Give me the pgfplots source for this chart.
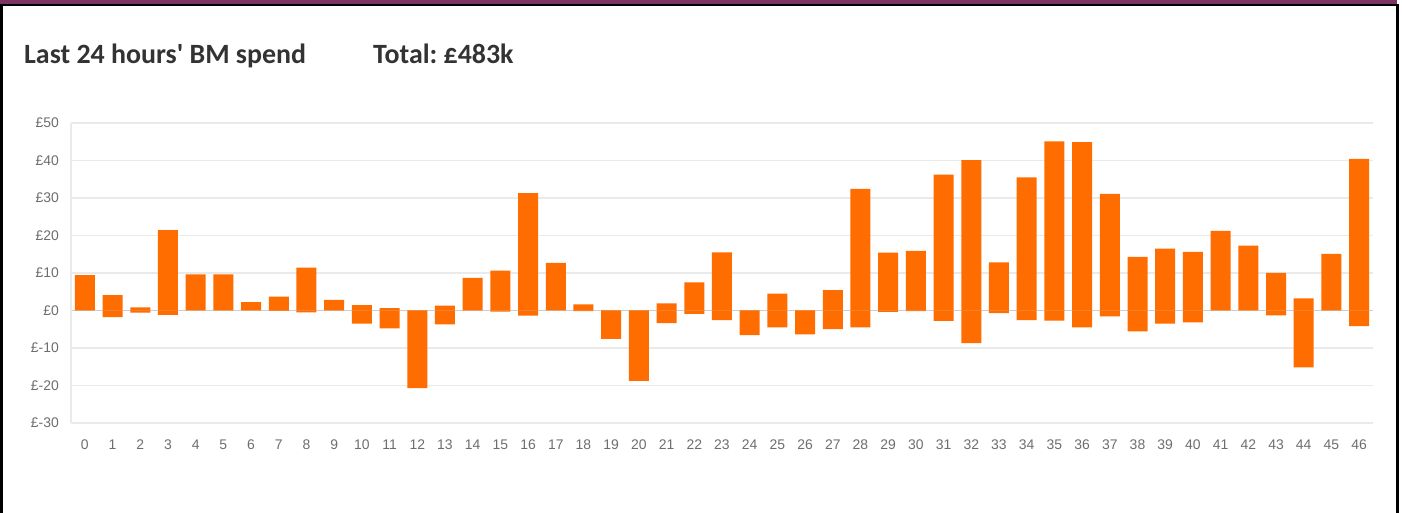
\documentclass[border=0pt]{standalone}
\usepackage{fontspec}
\setmainfont{Carlito}
\newfontfamily\tickfont{Liberation Sans}
\usepackage{pgfplots}
\usepackage{pgfplotstable}
\pgfplotsset{compat=1.18}
\definecolor{barorange}{RGB}{255,109,0}
\definecolor{topbar}{RGB}{123,53,96}
\definecolor{gridgrey}{RGB}{234,234,234}
\definecolor{zerogrey}{RGB}{205,205,205}
\definecolor{ticktext}{RGB}{110,110,110}
\definecolor{titlegrey}{RGB}{51,51,51}

\pgfplotstableread{
x pos neg
0 9.4 0
1 4.1 -1.8
2 0.8 -0.6
3 21.4 -1.2
4 9.6 0
5 9.6 0
6 2.2 0
7 3.7 -0.1
8 11.4 -0.5
9 2.8 0
10 1.4 -3.5
11 0.6 -4.8
12 0 -20.7
13 1.3 -3.7
14 8.7 0
15 10.6 -0.3
16 31.3 -1.4
17 12.7 0
18 1.6 -0.2
19 0 -7.6
20 0 -18.8
21 1.9 -3.4
22 7.5 -0.9
23 15.5 -2.6
24 0 -6.6
25 4.5 -4.5
26 0 -6.4
27 5.4 -5.0
28 32.4 -4.5
29 15.4 -0.4
30 15.9 -0.2
31 36.2 -2.8
32 40.1 -8.7
33 12.8 -0.7
34 35.5 -2.6
35 45.1 -2.7
36 44.9 -4.5
37 31.1 -1.6
38 14.3 -5.6
39 16.5 -3.5
40 15.6 -3.2
41 21.2 0
42 17.3 0
43 10.0 -1.3
44 3.2 -15.2
45 15.1 0
46 40.4 -4.2
}\bmdata

\begin{document}
\frenchspacing
\begin{tikzpicture}[x=1bp,y=1bp]
\fill[white] (0,0) rectangle (1402,513);
\useasboundingbox (0,0) rectangle (1402,513);
\fill[topbar] (0,509) rectangle (1397,513);
\fill[black] (0,506.5) rectangle (1399,509);
\fill[black] (0,0) rectangle (3,509);
\fill[black] (1396,0) rectangle (1399,509);
\node[anchor=base west, font=\bfseries\fontsize{28}{32}\selectfont, text=titlegrey, inner sep=0pt] at (24,449) {Last 24 hours\textquotesingle{} BM spend};
\node[anchor=base west, font=\bfseries\fontsize{28}{32}\selectfont, text=titlegrey, inner sep=0pt] at (373,449) {Total: £483k};
\begin{axis}[
  at={(71bp,90bp)}, anchor=south west,
  scale only axis, width=1302bp, height=300bp,
  xmin=-0.5, xmax=46.5, ymin=-30, ymax=50,
  clip=false,
  axis line style={draw=none},
  major tick length=0pt,
  ymajorgrids,
  grid style={gridgrey, line width=1.5bp},
  ytick={-30,-20,...,50},
  xtick={0,...,46},
  /pgf/number format/assume math mode=true,
  yticklabel={£\pgfmathprintnumber{\tick}},
  yticklabel style={anchor=east, inner sep=0pt, xshift=-12bp, font=\tickfont\fontsize{14}{14}\selectfont, text=ticktext},
  xticklabel style={anchor=north, inner sep=0pt, yshift=-17bp, font=\tickfont\fontsize{14}{14}\selectfont, text=ticktext},
]
\addplot[zerogrey, line width=1.5bp, mark=none] coordinates {(-0.5,0) (46.5,0)};
\addplot[gridgrey, line width=1.5bp, mark=none] coordinates {(-0.5,-30) (-0.5,50)};
\addplot[ybar, bar width=20bp, bar shift=0pt, fill=barorange, draw=none] table[x=x, y=pos] {\bmdata};
\addplot[ybar, bar width=20bp, bar shift=0pt, fill=barorange, draw=none] table[x=x, y=neg] {\bmdata};
\end{axis}
\end{tikzpicture}
\end{document}
